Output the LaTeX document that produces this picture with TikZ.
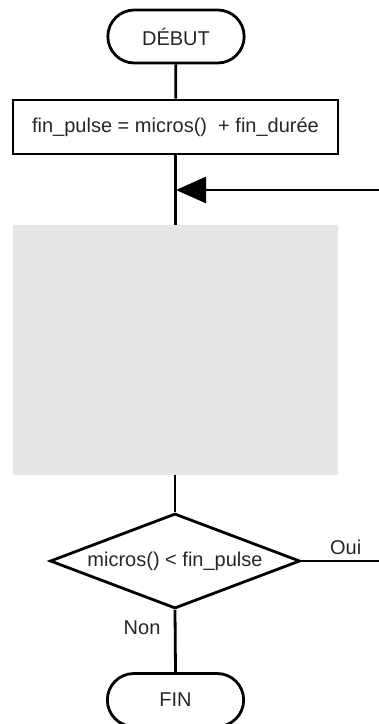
\documentclass[tikz,border=0pt]{standalone}
\usepackage{fontspec}
\setmainfont{Liberation Sans}
\usetikzlibrary{shapes.geometric,shapes.misc,arrows.meta}
\definecolor{grayfill}{HTML}{E6E6E6}
\begin{document}
\begin{tikzpicture}[x=1pt,y=-1pt,
  every node/.style={font=\fontsize{20}{22}\selectfont,text=black!85},
  line/.style={line width=2.8pt},
  term/.style={draw,line width=2.8pt,rounded rectangle,minimum width=143pt,minimum height=53pt},
  proc/.style={draw,line width=2.8pt,rectangle,minimum width=325pt,minimum height=54pt},
  deci/.style={draw,line width=2.8pt,diamond,minimum width=250pt,minimum height=95pt,inner sep=0pt},
]
\useasboundingbox (0,0) rectangle (379,724);
\node[term] (debut) at (176,36.5) {DÉBUT};
\node[proc] (calc) at (175.5,127) {fin\_pulse = micros()\ \ + fin\_durée};
\coordinate (join) at (176,190);
\coordinate (loopin) at (379,190);
\node[fill=grayfill,minimum width=325pt,minimum height=250pt,inner sep=0pt] (hidden) at (175.5,350) {};
\node[deci, shape aspect=2.63] (test) at (175,561) {};
\node at (175,561) {micros() < fin\_pulse};
\coordinate (oui) at (379,561);
\node[term] (fin) at (175.5,700) {FIN};
\draw[line] (debut) -- (calc);
\draw[line] (calc.south) -- (hidden.north -| calc.south);
\draw[line,-{Triangle[length=30pt,width=26pt]}] (loopin) -- (join);
\draw[line] (hidden.south -| test.north) -- (test.north);
\draw[line] (test.east) -- node[above,pos=0.57,yshift=2pt] {Oui} (oui);
\draw[line] (test.south) -- node[left,pos=0.29,xshift=-10pt] {Non} (fin.north);
\end{tikzpicture}
\end{document}
